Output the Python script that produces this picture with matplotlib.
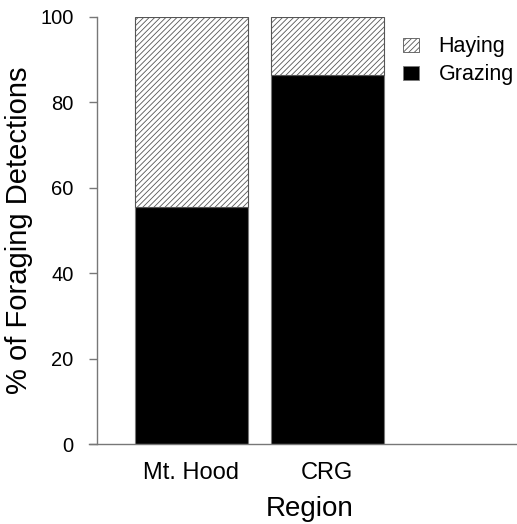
import numpy as np
import matplotlib
matplotlib.use("Agg")
from matplotlib import pyplot as plt
from matplotlib.patches import Patch

plt.rcParams['font.family'] = ['Liberation Sans', 'DejaVu Sans']
plt.rcParams['hatch.linewidth'] = 0.6

regions = ["Mt. Hood", "CRG"]
grazing = [55.5, 86.4]
haying = [44.5, 13.6]
yticks = [0, 20, 40, 60, 80, 100]

fig = plt.figure(figsize=(5.17, 5.24), dpi=100)
ax = fig.add_axes([97/517, 80/524, 420/517, 427/524])

x = np.array([0.7, 1.9])  # R barplot style, space=0.2
ax.bar(x, grazing, width=1.0, color="black", edgecolor="#777777", linewidth=0.8)
ax.bar(x, haying, width=1.0, bottom=grazing, color="white",
       edgecolor="#555555", hatch="//////", linewidth=0.8)

ax.set_xlim(-0.136, 3.58)
ax.set_ylim(0, 100)

for s in ["top", "right"]:
    ax.spines[s].set_visible(False)
for s in ["left", "bottom"]:
    ax.spines[s].set_color("#777777")
    ax.spines[s].set_linewidth(1.0)
ax.spines["bottom"].set_bounds(-0.21, 3.58)
ax.spines["bottom"].set_clip_on(False)

ax.set_yticks(yticks)
ax.set_yticklabels([str(v) for v in yticks], fontsize=14.5)
ax.tick_params(axis="y", length=6, width=1.0, color="#777777", pad=11)
ax.set_xticks(x)
ax.set_xticklabels(regions, fontsize=17)
ax.tick_params(axis="x", length=0, pad=13)

ax.set_ylabel("% of Foraging Detections", fontsize=21)
ax.yaxis.set_label_coords(-0.152, 0.5)
ax.set_xlabel("Region", fontsize=20)
ax.xaxis.set_label_coords(0.507, -0.122)

handles = [Patch(facecolor="white", edgecolor="#555555", hatch="//////", linewidth=0.6, label="Haying"),
           Patch(facecolor="black", edgecolor="#777777", linewidth=0.6, label="Grazing")]
ax.legend(handles=handles, loc="upper left", bbox_to_anchor=(0.708, 0.975), frameon=False,
          fontsize=15.5, handlelength=0.75, handleheight=0.6, handletextpad=0.9,
          labelspacing=0.33, borderaxespad=0)

fig.savefig("out.png", dpi=100)
